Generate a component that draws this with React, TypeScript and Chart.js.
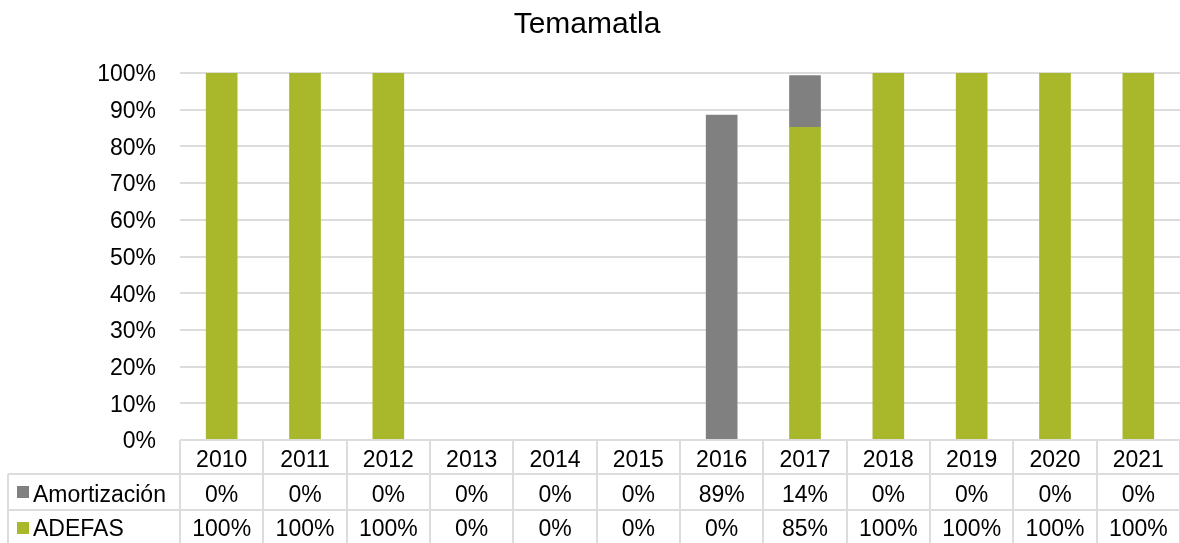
import React, { useEffect, useRef } from "react";
import { Chart, registerables } from "chart.js";

Chart.register(...registerables);

const TITLE = "Temamatla";
const YEARS = ["2010", "2011", "2012", "2013", "2014", "2015", "2016", "2017", "2018", "2019", "2020", "2021"];
const ADEFAS = [100, 100, 100, 0, 0, 0, 0, 85.3, 100, 100, 100, 100];
const AMORTIZACION = [0, 0, 0, 0, 0, 0, 88.6, 14.1, 0, 0, 0, 0];
const Y_TICKS_MAX = 100;
const Y_TICKS_STEP = 10;

const GREEN = "#A8B82A";
const GRAY = "#808080";
const LINE = "#DCDCDC";
const FONT = "'Liberation Sans', Arial, sans-serif";

const tablePlugin = {
  id: "dataTable",
  afterDraw(chart: any) {
    const ctx = chart.ctx as CanvasRenderingContext2D;
    const area = chart.chartArea;
    const xs = chart.scales.x;
    const n = YEARS.length;
    const w = (area.right - area.left) / n;
    const top = area.bottom;
    const r1 = 474;
    const r2 = 510;
    const bottom = chart.height;
    const tableLeft = 8;

    ctx.save();
    // title
    ctx.fillStyle = "#000";
    ctx.font = `30px ${FONT}`;
    ctx.textAlign = "center";
    ctx.textBaseline = "alphabetic";
    ctx.fillText(TITLE, 587, 33);

    // grid lines
    ctx.strokeStyle = LINE;
    ctx.lineWidth = 2;
    ctx.beginPath();
    ctx.moveTo(tableLeft, r1);
    ctx.lineTo(area.right, r1);
    ctx.moveTo(tableLeft, r2);
    ctx.lineTo(area.right, r2);
    ctx.moveTo(tableLeft, r1);
    ctx.lineTo(tableLeft, bottom);
    for (let i = 0; i <= n; i++) {
      const x = Math.round(area.left + i * w);
      ctx.moveTo(x, top);
      ctx.lineTo(x, bottom);
    }
    ctx.stroke();

    // text
    ctx.fillStyle = "#000";
    ctx.font = `23px ${FONT}`;
    ctx.textAlign = "center";
    ctx.textBaseline = "alphabetic";
    for (let i = 0; i < n; i++) {
      const cx = xs.getPixelForValue(i);
      ctx.fillText(YEARS[i], cx, 467);
      ctx.fillText(Math.round(AMORTIZACION[i]) + "%", cx, 501.5);
      ctx.fillText(Math.round(ADEFAS[i]) + "%", cx, 536);
    }

    // legend keys
    ctx.textAlign = "left";
    ctx.fillStyle = GRAY;
    ctx.fillRect(17, 486, 12, 12);
    ctx.fillStyle = GREEN;
    ctx.fillRect(17, 522, 12, 12);
    ctx.fillStyle = "#000";
    ctx.fillText("Amortización", 33, 501.5);
    ctx.fillText("ADEFAS", 33, 536);
    ctx.restore();
  },
};

export default function App() {
  const ref = useRef<HTMLCanvasElement | null>(null);

  useEffect(() => {
    if (!ref.current) return;
    const chart = new Chart(ref.current, {
      type: "bar",
      data: {
        labels: YEARS,
        datasets: [
          {
            label: "ADEFAS",
            data: ADEFAS,
            backgroundColor: GREEN,
            borderWidth: 0,
            barPercentage: 0.38,
            categoryPercentage: 1,
          },
          {
            label: "Amortización",
            data: AMORTIZACION,
            backgroundColor: GRAY,
            borderWidth: 0,
            barPercentage: 0.38,
            categoryPercentage: 1,
          },
        ],
      },
      options: {
        responsive: false,
        animation: false,
        devicePixelRatio: 1,
        layout: { padding: { top: 73, bottom: 103, left: 0, right: 0 } },
        plugins: {
          legend: { display: false },
          title: { display: false },
          tooltip: { enabled: false },
        },
        scales: {
          x: {
            stacked: true,
            display: false,
          },
          y: {
            stacked: true,
            min: 0,
            max: Y_TICKS_MAX,
            border: { display: false },
            grid: { color: LINE, drawTicks: false, lineWidth: 2 },
            ticks: {
              stepSize: Y_TICKS_STEP,
              padding: 24,
              labelOffset: 2,
              color: "#000",
              font: { family: FONT, size: 23 },
              callback: (v: any) => v + "%",
            },
            afterFit: (scale: any) => {
              scale.width = 180;
            },
          },
        },
      },
      plugins: [tablePlugin],
    });
    return () => chart.destroy();
  }, []);

  return (
    <div style={{ position: "fixed", left: 0, top: 0, width: 1180, height: 543, background: "#fff" }}>
      <canvas ref={ref} width={1180} height={543} />
    </div>
  );
}
